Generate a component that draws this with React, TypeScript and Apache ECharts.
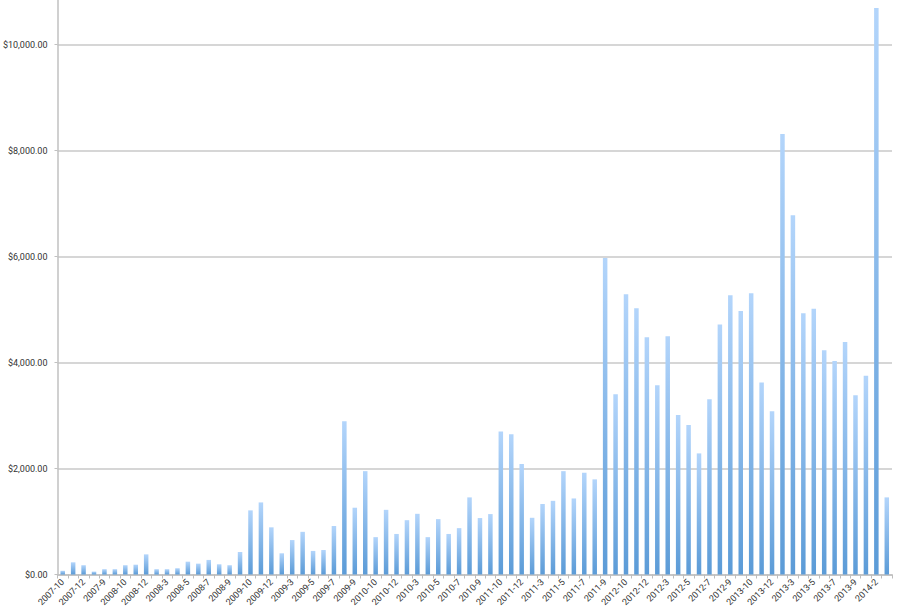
import React, { useEffect, useRef } from 'react';
import * as echarts from 'echarts';

// months come out in string order, as in the source sheet
const months: string[] = [
  '2007-10', '2007-11', '2007-12', '2007-8', '2007-9',
  '2008-1', '2008-10', '2008-11', '2008-12', '2008-2', '2008-3', '2008-4', '2008-5', '2008-6', '2008-7', '2008-8', '2008-9',
  '2009-1', '2009-10', '2009-11', '2009-12', '2009-2', '2009-3', '2009-4', '2009-5', '2009-6', '2009-7', '2009-8', '2009-9',
  '2010-1', '2010-10', '2010-11', '2010-12', '2010-2', '2010-3', '2010-4', '2010-5', '2010-6', '2010-7', '2010-8', '2010-9',
  '2011-1', '2011-10', '2011-11', '2011-12', '2011-2', '2011-3', '2011-4', '2011-5', '2011-6', '2011-7', '2011-8', '2011-9',
  '2012-1', '2012-10', '2012-11', '2012-12', '2012-2', '2012-3', '2012-4', '2012-5', '2012-6', '2012-7', '2012-8', '2012-9',
  '2013-1', '2013-10', '2013-11', '2013-12', '2013-2', '2013-3', '2013-4', '2013-5', '2013-6', '2013-7', '2013-8', '2013-9',
  '2014-1', '2014-2', '2014-3',
];

const amounts: number[] = [
  70, 230, 175, 55, 100,
  100, 175, 185, 380, 100, 100, 118, 242, 205, 275, 193, 175,
  425, 1210, 1360, 890, 400, 650, 805, 445, 462, 915, 2890, 1260,
  1950, 705, 1220, 765, 1025, 1145, 705, 1045, 765, 875, 1455, 1065,
  1140, 2700, 2645, 2085, 1070, 1330, 1390, 1950, 1435, 1920, 1795, 5970,
  3400, 5290, 5025, 4475, 3570, 4495, 3010, 2820, 2285, 3305, 4715, 5270,
  4970, 5305, 3625, 3080, 8310, 6780, 4930, 5015, 4230, 4030, 4385, 3380,
  3750, 10690, 1455,
];

const yTicks: number[] = [0, 2000, 4000, 6000, 8000, 10000];

const font = 'Roboto, "Noto Sans", sans-serif';

const money = (v: number) =>
  '$' + v.toLocaleString('en-US', { minimumFractionDigits: 2, maximumFractionDigits: 2 });

const App: React.FC = () => {
  const chartRef = useRef<HTMLDivElement>(null);

  useEffect(() => {
    const chart = echarts.init(chartRef.current, null, { renderer: 'svg' });

    const option = {
      animation: false,
      grid: {
        left: 57.5,
        right: 7,
        top: -8.5,
        bottom: 35.5,
        outerBoundsMode: 'none',
      },
      xAxis: {
        type: 'category',
        data: months,
        boundaryGap: true,
        axisLine: { lineStyle: { color: '#c0c0c0', width: 1.5 } },
        axisTick: { show: true, interval: 0, length: 4, lineStyle: { color: '#bdbdbd' } },
        axisLabel: {
          interval: 1,
          rotate: 45,
          margin: 6,
          fontSize: 9,
          fontFamily: font,
          color: '#333',
        },
      },
      yAxis: {
        type: 'value',
        min: 0,
        max: 11000,
        interval: 2000,
        axisLine: { show: true, lineStyle: { color: '#c0c0c0', width: 1.5 } },
        axisTick: { show: true, length: 3, lineStyle: { color: '#c0c0c0' } },
        splitLine: { lineStyle: { color: '#c8c8c8', width: 1.5 } },
        axisLabel: {
          margin: 10,
          fontSize: 9,
          fontFamily: font,
          color: '#333',
          formatter: (v: number) => (yTicks.includes(v) ? money(v) : ''),
        },
      },
      series: [{
        type: 'bar',
        data: amounts,
        barWidth: 4.5,
        itemStyle: {
          color: new echarts.graphic.LinearGradient(0, 0, 0, 1, [
            { offset: 0, color: '#b3d5fb' },
            { offset: 1, color: '#5b9bd7' },
          ]),
        },
      }],
    };

    chart.setOption(option);

    return () => {
      chart.dispose();
    };
  }, []);

  return (
    <div
      ref={chartRef}
      style={{ position: 'absolute', left: 0, top: 0, width: '899px', height: '610px' }}
    />
  );
};

export default App;
